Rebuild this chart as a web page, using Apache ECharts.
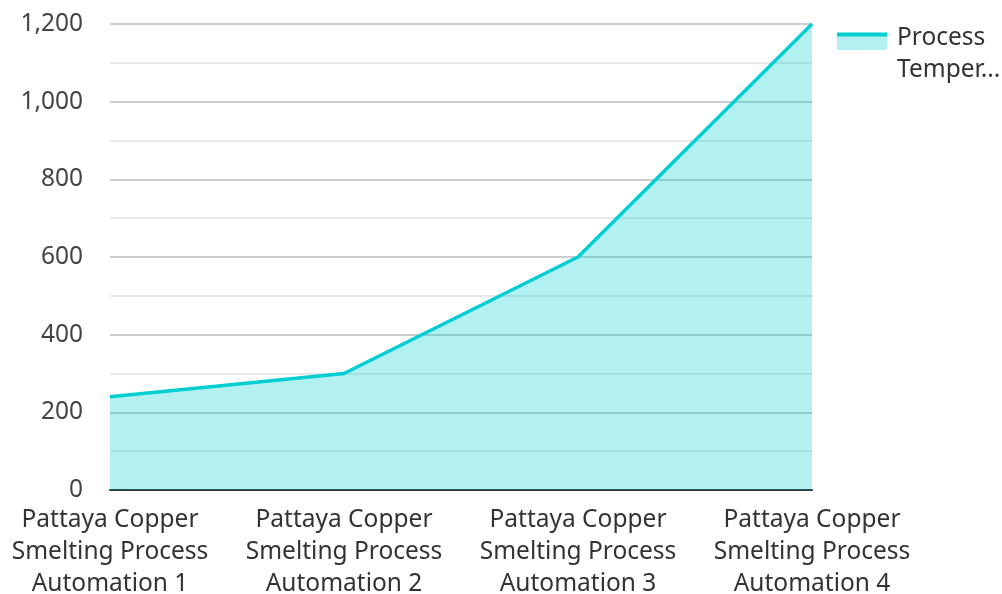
<!DOCTYPE html>
<html>
<head>
<meta charset="utf-8">
<script src="https://cdn.jsdelivr.net/npm/echarts@6/dist/echarts.min.js"></script>
<style>
  html, body { margin: 0; padding: 0; background: #ffffff; }
  #chart { width: 1002px; height: 594px; }
</style>
</head>
<body>
<div id="chart"></div>
<script>
// Smelting line categories and measured process temperature
const categories = [
  'Pattaya Copper\nSmelting Process\nAutomation 1',
  'Pattaya Copper\nSmelting Process\nAutomation 2',
  'Pattaya Copper\nSmelting Process\nAutomation 3',
  'Pattaya Copper\nSmelting Process\nAutomation 4'
];
const seriesName = 'Process Temperature (°C)';
const temperatures = [240, 300, 600, 1200];
const yTicks = { min: 0, max: 1200, interval: 200 };

const FONT = '"Noto Sans", "Open Sans", sans-serif';
const FONT_SIZE = 24.5;
const LINE_COLOR = '#00ced1';
const AREA_COLOR = 'rgba(0, 206, 209, 0.3)';
const chart = echarts.init(document.getElementById('chart'));

chart.setOption({
  animation: false,
  textStyle: { fontFamily: FONT },
  grid: { left: 110, right: 190, top: 24, bottom: 104, containLabel: false, outerBoundsMode: 'none' },
  legend: {
    orient: 'vertical',
    left: 837,
    top: 8,
    padding: 0,
    itemWidth: 50,
    itemHeight: 16,
    icon: 'rect',
    itemStyle: { color: AREA_COLOR, borderWidth: 0 },
    // spacer line first so the wrapped name starts level with the swatch
    formatter: () => '{s| }\n{t|Process}\n{t|Temper...}',
    textStyle: {
      fontSize: FONT_SIZE, color: '#333333', fontFamily: FONT,
      rich: {
        s: { lineHeight: 24, fontSize: 4 },
        t: { fontSize: FONT_SIZE, lineHeight: 32, color: '#333333', fontFamily: FONT, padding: [0, 0, 0, 5] }
      }
    }
  },
  // stroke along the top of the legend swatch, like the series line over its area
  graphic: [{
    type: 'line',
    shape: { x1: 837, y1: 34.5, x2: 887, y2: 34.5 },
    style: { stroke: LINE_COLOR, lineWidth: 4 },
    z: 100
  }],
  xAxis: {
    type: 'category',
    data: categories,
    boundaryGap: false,
    axisLine: { lineStyle: { color: '#333333', width: 2 } },
    axisTick: { show: false },
    axisLabel: { fontSize: FONT_SIZE, color: '#333333', lineHeight: 32, margin: 14, fontFamily: FONT, interval: 0 }
  },
  yAxis: {
    type: 'value',
    min: yTicks.min,
    max: yTicks.max,
    interval: yTicks.interval,
    axisLine: { show: false },
    axisTick: { show: false },
    axisLabel: {
      fontSize: FONT_SIZE, color: '#444444', margin: 27, fontFamily: FONT,
      formatter: v => v.toLocaleString('en-US')
    },
    splitLine: { lineStyle: { color: '#cccccc', width: 2 } },
    minorTick: { show: false, splitNumber: 2 },
    minorSplitLine: { show: true, lineStyle: { color: '#e8e8e8', width: 2 } }
  },
  series: [{
    name: seriesName,
    type: 'line',
    data: temperatures,
    symbol: 'none',
    lineStyle: { color: LINE_COLOR, width: 3.5 },
    itemStyle: { color: LINE_COLOR },
    areaStyle: { color: LINE_COLOR, opacity: 0.3 }
  }]
});
</script>
</body>
</html>
